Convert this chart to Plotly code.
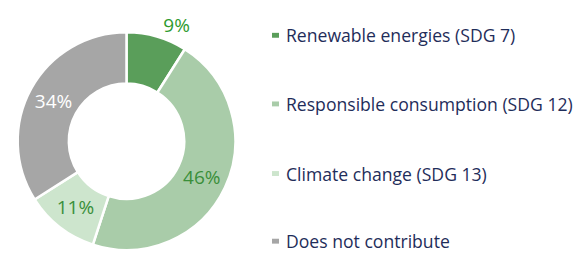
import plotly.graph_objects as go

labels = ["Renewable energies (SDG 7)", "Responsible consumption (SDG 12)",
          "Climate change (SDG 13)", "Does not contribute"]
values = [9, 46, 11, 34]
colors = ["#5a9e5a", "#a9cca9", "#cde5cd", "#a6a6a6"]
text_colors = ["#2e9b2e", "#3a8f3a", "#3a8f3a", "#ffffff"]
text_pos = ["outside", "inside", "inside", "inside"]

W, H = 579, 255
FONT = "'Open Sans', sans-serif"

cx, r = 126.5, 113

fig = go.Figure(go.Pie(
    labels=labels, values=values, sort=False, direction="clockwise", rotation=0,
    hole=0.53,
    marker=dict(colors=colors, line=dict(color="white", width=2.5)),
    textinfo="percent", textposition=text_pos,
    insidetextorientation="horizontal",
    textfont=dict(family=FONT, size=19, color=text_colors),
    outsidetextfont=dict(family=FONT, size=19, color=text_colors),
    showlegend=False,
    domain=dict(x=[(cx - r) / W, (cx + r) / W], y=[0, 222 / H]),
))

legend_y = [36, 106, 177, 246]
shapes, annotations = [], []
for lab, col, yy in zip(labels, colors, legend_y):
    shapes.append(dict(type="rect", xref="paper", yref="paper",
                       x0=272 / W, x1=279 / W, y0=1 - (yy + 2.5) / H, y1=1 - (yy - 2.5) / H,
                       fillcolor=col, line=dict(width=0)))
    annotations.append(dict(text=lab, xref="paper", yref="paper", x=284 / W, y=1 - yy / H,
                            xanchor="left", yanchor="middle", showarrow=False,
                            font=dict(family=FONT, size=17.6, color="#1f2d5a")))

fig.update_layout(width=W, height=H, margin=dict(l=0, r=0, t=0, b=0),
                  paper_bgcolor="white", plot_bgcolor="white",
                  shapes=shapes, annotations=annotations)
fig.write_html("out.html", config={"displayModeBar": False},
               post_script="document.body.style.margin='0';")
